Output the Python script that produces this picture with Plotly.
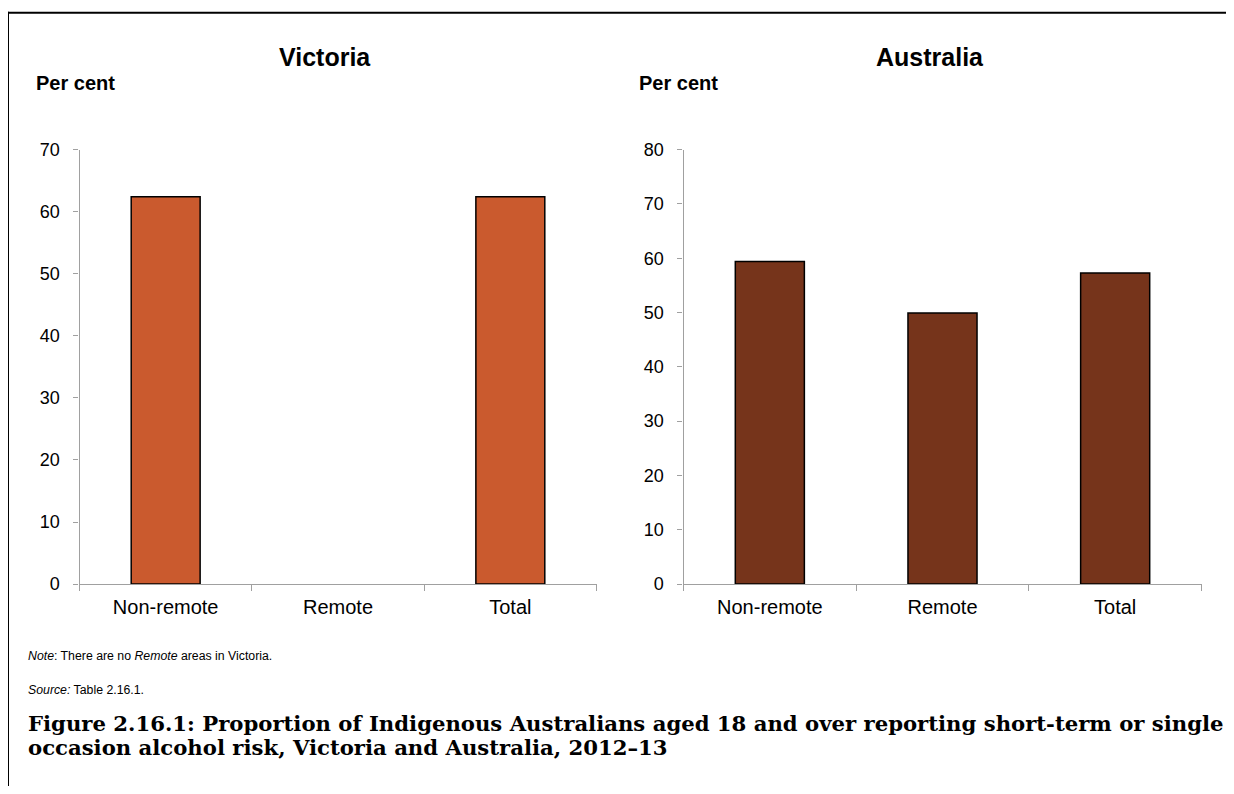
import plotly.graph_objects as go

categories = ["Non-remote", "Remote", "Total"]
victoria_values = [62.4, None, 62.4]
australia_values = [59.4, 49.9, 57.3]
victoria_ticks = [0, 10, 20, 30, 40, 50, 60, 70]
australia_ticks = [0, 10, 20, 30, 40, 50, 60, 70, 80]

# page body has an 8px margin; size the figure so the page is exactly 1234x794
OFF = 8
W, H = 1234 - 2 * OFF, 794 - 2 * OFF
def px(x):
    return (x - OFF) / W
def py(y):
    # compensate observed vertical mapping of the captured page
    yy = (y - 9.4) / 0.9755
    return 1 - (yy - OFF) / H

fig = go.Figure()
fig.add_trace(go.Bar(x=categories, y=victoria_values, xaxis="x", yaxis="y",
                     marker=dict(color="#CA5A2E", line=dict(color="#000000", width=1.5)),
                     showlegend=False))
fig.add_trace(go.Bar(x=categories, y=australia_values, xaxis="x2", yaxis="y2",
                     marker=dict(color="#76341B", line=dict(color="#000000", width=1.5)),
                     showlegend=False))

ytick_font = dict(family="Liberation Sans, Arial, sans-serif", size=18, color="#000000")
xtick_font = dict(family="Liberation Sans, Arial, sans-serif", size=20, color="#000000")
xcommon = dict(type="category", showgrid=False, showline=True, linecolor="#A0A0A0", linewidth=1.3,
               ticks="outside", ticklen=6, tickcolor="#A0A0A0", tickwidth=1.3, tickson="boundaries",
               tickfont=xtick_font, ticklabelstandoff=5, zeroline=False, fixedrange=True)
ycommon = dict(showgrid=False, showline=True, linecolor="#A0A0A0", linewidth=1.3,
               ticks="outside", ticklen=5, tickcolor="#A0A0A0", tickwidth=1.3,
               tickfont=ytick_font, ticklabelstandoff=10, zeroline=False, fixedrange=True)

ydom = [py(584), py(149)]
fig.update_layout(
    width=W, height=H,
    margin=dict(l=0, r=0, t=0, b=0),
    paper_bgcolor="#FFFFFF", plot_bgcolor="#FFFFFF",
    bargap=0.6,
    xaxis=dict(domain=[px(79.5), px(596.5)], anchor="y", **xcommon),
    yaxis=dict(domain=ydom, anchor="x", range=[0, 70], tickvals=victoria_ticks, **ycommon),
    xaxis2=dict(domain=[px(683.5), px(1201.5)], anchor="y2", **xcommon),
    yaxis2=dict(domain=ydom, anchor="x2", range=[0, 80], tickvals=australia_ticks, **ycommon),
)

title_font = dict(family="Liberation Sans, Arial, sans-serif", size=25, color="#000000")
label_font = dict(family="Liberation Sans, Arial, sans-serif", size=20, color="#000000")
note_font = dict(family="Liberation Sans, Arial, sans-serif", size=12.3, color="#000000")
cap_font = dict(family="DejaVu Serif, serif", size=21.2, color="#000000")

annotations = [
    dict(text="<b>Victoria</b>", x=px(325), y=py(56), xanchor="center", yanchor="middle", font=title_font),
    dict(text="<b>Australia</b>", x=px(930), y=py(56), xanchor="center", yanchor="middle", font=title_font),
    dict(text="<b>Per cent</b>", x=px(34), y=py(82), xanchor="left", yanchor="middle", font=label_font),
    dict(text="<b>Per cent</b>", x=px(637), y=py(82), xanchor="left", yanchor="middle", font=label_font),
    dict(text="<i>Note</i>: There are no <i>Remote</i> areas in Victoria.", x=px(26), y=py(656),
         xanchor="left", yanchor="middle", font=note_font),
    dict(text="<i>Source:</i> Table 2.16.1.", x=px(26), y=py(690),
         xanchor="left", yanchor="middle", font=note_font),
    dict(text="<b>Figure 2.16.1: Proportion of Indigenous Australians aged 18 and over reporting short-term or single</b>",
         x=px(26), y=py(724), xanchor="left", yanchor="middle", font=cap_font),
    dict(text="<b>occasion alcohol risk, Victoria and Australia, 2012\u201313</b>",
         x=px(26), y=py(748), xanchor="left", yanchor="middle", font=cap_font),
]
for a in annotations:
    a.update(xref="paper", yref="paper", showarrow=False, align="left")
fig.update_layout(annotations=annotations)

fig.update_layout(shapes=[
    dict(type="line", xref="paper", yref="paper", x0=px(8), x1=px(8), y0=py(11), y1=py(820),
         line=dict(color="#000000", width=2)),
    dict(type="line", xref="paper", yref="paper", x0=px(7), x1=px(1240), y0=py(12), y1=py(12),
         line=dict(color="#000000", width=2)),
])

fig.write_html("out.html")
